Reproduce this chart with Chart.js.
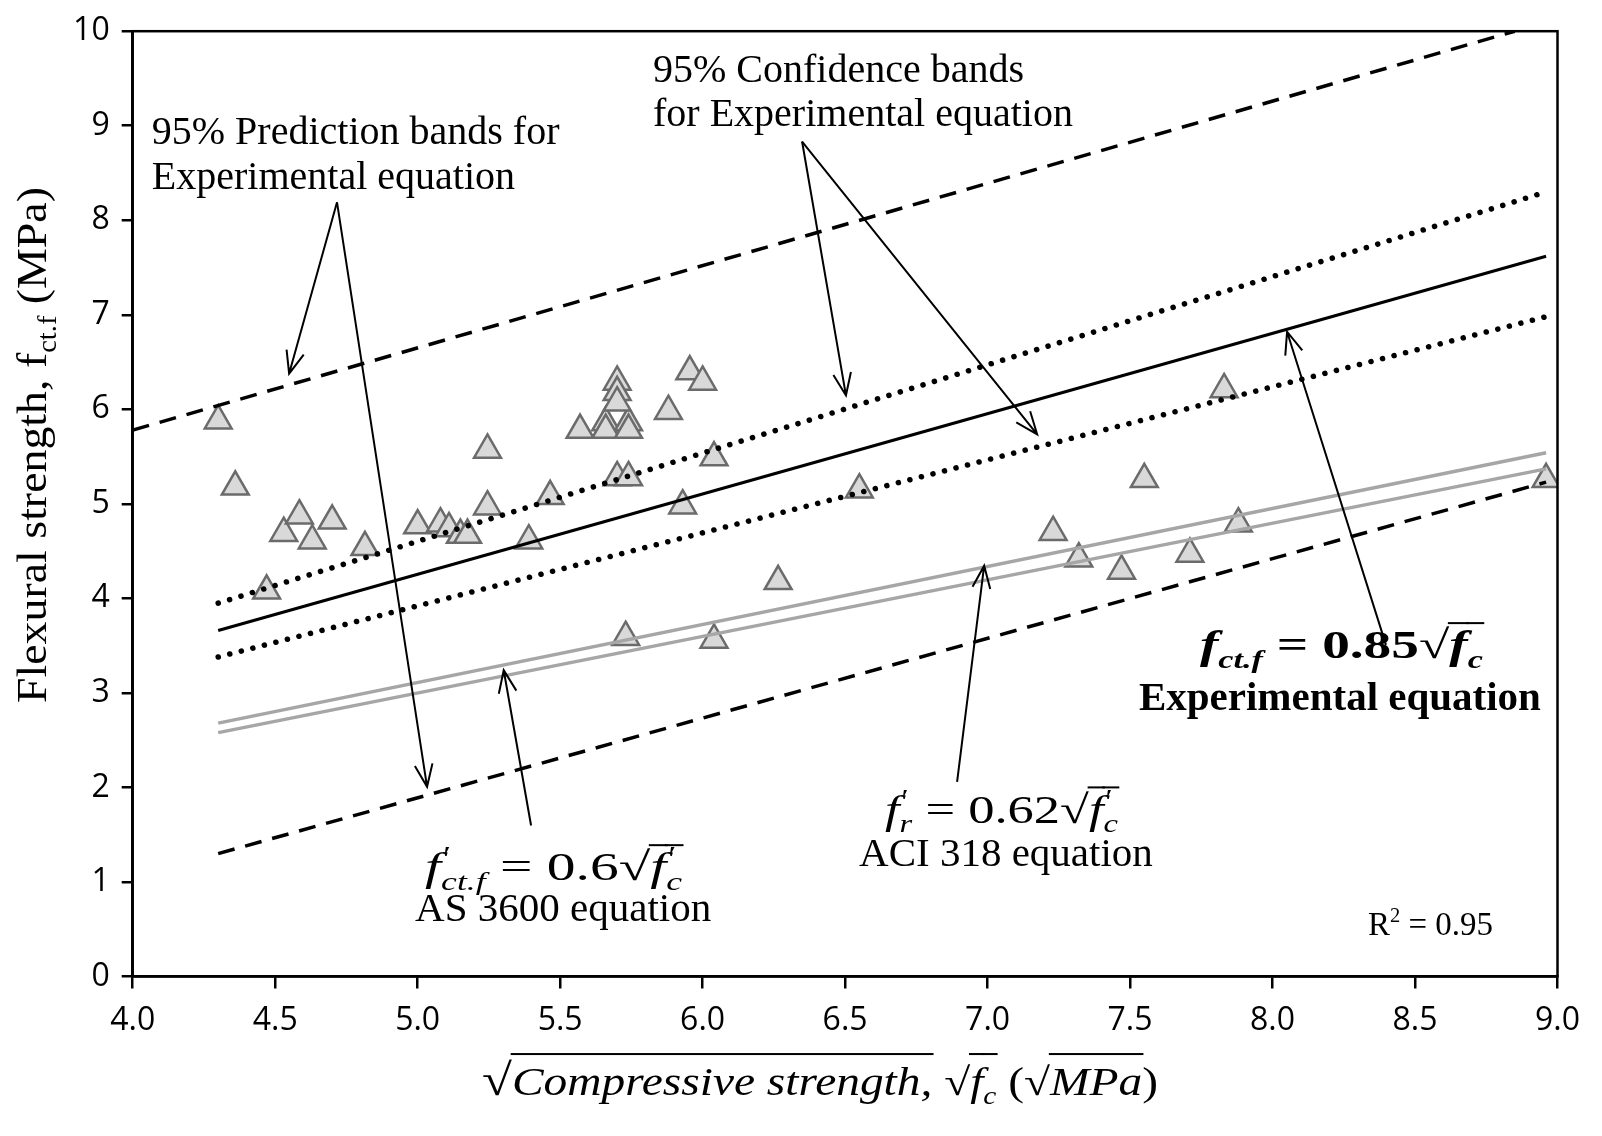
<!DOCTYPE html>
<html>
<head>
<meta charset="UTF-8">
<title>Flexural strength vs square root of compressive strength</title>
<script src="https://cdn.jsdelivr.net/npm/chart.js"></script>
<style>
    body { margin: 0; background: #ffffff; }
    .chart-container { position: relative; width: 1602px; height: 1136px; }
</style>
</head>
<body>
<div class="chart-container"><canvas id="strengthChart"></canvas></div>
<script>
// test results: sqrt(fc) (sqrt MPa) and flexural strength fct.f (MPa)
var sqrtFc = [4.30, 4.36, 4.47, 4.53, 4.585, 4.63, 4.70, 4.815, 5.00, 5.08, 5.11, 5.15, 5.175,
              5.245, 5.245, 5.39, 5.465, 5.57, 5.66, 5.74, 5.66, 5.74, 5.70, 5.70, 5.70, 5.70,
              5.74, 5.73, 5.88, 5.93, 5.955, 6.00, 6.04, 6.04, 6.265, 6.55, 7.23, 7.32, 7.47,
              7.55, 7.71, 7.83, 7.88, 8.96];
var fctf   = [5.88, 5.18, 4.08, 4.69, 4.875, 4.61, 4.82, 4.54, 4.77, 4.79, 4.74, 4.67, 4.67,
              4.97, 5.57, 4.61, 5.08, 5.78, 5.86, 5.86, 5.78, 5.78, 6.29, 6.18, 6.07, 5.28,
              5.28, 3.59, 5.98, 4.98, 6.40, 6.29, 5.49, 3.56, 4.18, 5.15, 4.70, 4.42, 4.29,
              5.26, 4.47, 6.21, 4.79, 5.26];

// straight lines, end points
var expLineX = [4.30, 8.96],  expLineY = [3.66, 7.62];     // fct.f = 0.85 sqrt(fc)
var confX    = [4.30, 8.96];
var confUpY  = [3.95, 8.30],  confLowY = [3.38, 6.98];      // 95% confidence bands
var predUpX  = [4.00, 8.85],  predUpY  = [5.78, 10.0];      // 95% prediction bands
var predLowX = [4.30, 8.96],  predLowY = [1.30, 5.23];
var codeX    = [4.30, 8.96];
var aciY     = [2.68, 5.54],  as3600Y  = [2.58, 5.37];      // ACI 318 / AS 3600

var xTicks = [4.0, 4.5, 5.0, 5.5, 6.0, 6.5, 7.0, 7.5, 8.0, 8.5, 9.0];

function pts(xs, ys) {
    return xs.map(function (x, i) { return { x: x, y: ys[i] }; });
}

function lineSet(xs, ys, color, width, dash, cap) {
    return {
        type: 'scatter', data: pts(xs, ys), showLine: true, order: 1,
        borderColor: color, borderWidth: width, borderDash: dash || [],
        borderCapStyle: cap || 'butt', pointRadius: 0, pointHoverRadius: 0, fill: false
    };
}

// ---- rich text (sub/superscripts, overbars) drawn on the canvas ----
function fontStr(r, size, fam) {
    return (r.italic ? 'italic ' : '') + (r.bold ? 'bold ' : '') + size.toFixed(1) + 'px ' + (r.family || fam);
}

function drawRich(ctx, runs, x, y, o) {
    var size = o.size, fam = o.family || '"Liberation Serif"';
    var items = [], w = 0;
    runs.forEach(function (r) {
        var rw;
        if (r.hi !== undefined) {
            ctx.font = fontStr(r, size * 0.62, fam);
            rw = Math.max(ctx.measureText(r.hi).width, ctx.measureText(r.lo).width);
        } else {
            var s = (r.sub || r.sup) ? 0.62 : (r.scale || 1);
            ctx.font = fontStr(r, size * s, fam);
            rw = ctx.measureText(r.t).width;
        }
        items.push({ r: r, x: w, w: rw });
        w += rw + (r.gap || 0) * size;
    });
    var k = o.width ? o.width / w : 1;
    var x0 = o.align === 'center' ? x - w * k / 2 : x;
    ctx.save();
    ctx.translate(x0, y);
    ctx.scale(k, 1);
    ctx.fillStyle = o.color || '#000';
    ctx.textAlign = 'left';
    ctx.textBaseline = 'alphabetic';
    items.forEach(function (it) {
        var r = it.r;
        if (r.hi !== undefined) {
            ctx.font = fontStr(r, size * 0.62, fam);
            ctx.fillText(r.hi, it.x, -size * 0.40);
            ctx.fillText(r.lo, it.x, size * 0.24);
        } else {
            var s = (r.sub || r.sup) ? 0.62 : (r.scale || 1);
            ctx.font = fontStr(r, size * s, fam);
            ctx.fillText(r.t, it.x, r.sub ? size * 0.24 : (r.sup ? -size * 0.40 : 0));
        }
        if (r.bar) {
            var lw = o.barW || 2;
            ctx.fillRect(it.x - 1, -size * (o.barY || 0.8) - lw / 2, it.w + 2, lw);
        }
    });
    ctx.restore();
}

function arrow(ctx, x1, y1, x2, y2) {
    var a = Math.atan2(y2 - y1, x2 - x1), L = 24, h = 0.38;
    ctx.beginPath();
    ctx.moveTo(x1, y1); ctx.lineTo(x2, y2);
    ctx.moveTo(x2 - L * Math.cos(a - h), y2 - L * Math.sin(a - h));
    ctx.lineTo(x2, y2);
    ctx.lineTo(x2 - L * Math.cos(a + h), y2 - L * Math.sin(a + h));
    ctx.stroke();
}

// annotation anchors in data units
var arrows = [
    [4.717, 8.19, 4.549, 6.378], [4.717, 8.19, 5.033, 2.007],   // prediction bands
    [6.349, 8.833, 6.503, 6.147], [6.349, 8.833, 7.174, 5.736], // confidence bands
    [8.398, 3.508, 8.051, 6.821],                                // experimental
    [6.893, 2.059, 6.988, 4.346],                                // ACI 318
    [5.398, 1.597, 5.302, 3.240]                                 // AS 3600
];

var overlay = {
    id: 'overlay',
    afterDraw: function (chart) {
        var ctx = chart.ctx, a = chart.chartArea;
        var sx = chart.scales.x, sy = chart.scales.y;
        function X(v) { return sx.getPixelForValue(v); }
        function Y(v) { return sy.getPixelForValue(v); }
        ctx.save();
        // plot frame
        ctx.strokeStyle = '#000';
        ctx.lineWidth = 2.5;
        ctx.strokeRect(a.left, a.top, a.right - a.left, a.bottom - a.top);

        ctx.lineWidth = 2;
        arrows.forEach(function (p) { arrow(ctx, X(p[0]), Y(p[1]), X(p[2]), Y(p[3])); });

        var serif = { size: 40 };
        drawRich(ctx, [{ t: '95% Prediction bands for' }], X(4.067), Y(8.81), serif);
        drawRich(ctx, [{ t: 'Experimental equation' }], X(4.067), Y(8.33), serif);
        drawRich(ctx, [{ t: '95% Confidence bands' }], X(5.826), Y(9.466), serif);
        drawRich(ctx, [{ t: 'for Experimental equation' }], X(5.826), Y(8.992), serif);

        drawRich(ctx, [{ t: 'f', italic: 1, bold: 1 }, { t: 'ct.f', sub: 1, italic: 1, bold: 1 },
                       { t: ' = 0.85', bold: 1 }, { t: '\u221A' },
                       { t: 'f', italic: 1, bold: 1, bar: 1 }, { t: 'c', sub: 1, italic: 1, bold: 1, bar: 1 }],
                 X(7.745), Y(3.366), { size: 40, width: 283, barY: 0.88 });
        drawRich(ctx, [{ t: 'Experimental equation', bold: 1 }], X(7.531), Y(2.818), { size: 41 });

        drawRich(ctx, [{ t: 'f', italic: 1 }, { hi: '\u2032', lo: 'r', italic: 1 }, { t: ' = 0.62' },
                       { t: '\u221A' }, { t: 'f', italic: 1, bar: 1 }, { hi: '\u2032', lo: 'c', italic: 1, bar: 1 }],
                 X(6.640), Y(1.628), { size: 40, width: 233, barY: 0.88 });
        drawRich(ctx, [{ t: 'ACI 318 equation' }], X(6.549), Y(1.164), { size: 41 });

        drawRich(ctx, [{ t: 'f', italic: 1 }, { hi: '\u2032', lo: 'ct.f', italic: 1 }, { t: ' = 0.6' },
                       { t: '\u221A' }, { t: 'f', italic: 1, bar: 1 }, { hi: '\u2032', lo: 'c', italic: 1, bar: 1 }],
                 X(5.026), Y(1.017), { size: 40, width: 257, barY: 0.88 });
        drawRich(ctx, [{ t: 'AS 3600 equation' }], X(4.991), Y(0.585), { size: 41 });

        drawRich(ctx, [{ t: 'R' }, { t: '2', sup: 1 }, { t: ' = 0.95' }], X(8.335), Y(0.437), { size: 33 });

        // axis titles
        ctx.save();
        ctx.translate(46, 445);
        ctx.rotate(-Math.PI / 2);
        drawRich(ctx, [{ t: 'Flexural strength, f' }, { t: 'ct.f', sub: 1 }, { t: ' (MPa)' }],
                 0, 0, { size: 43, align: 'center', width: 516 });
        ctx.restore();

        drawRich(ctx, [{ t: '\u221A', scale: 1.15 }, { t: 'Compressive strength,', italic: 1, bar: 1 },
                       { t: ' ' }, { t: '\u221A' }, { t: 'f', italic: 1, bar: 1 }, { t: 'c', sub: 1, italic: 1, bar: 1 },
                       { t: ' (' }, { t: '\u221A' }, { t: 'MPa', italic: 1, bar: 1 }, { t: ')' }],
                 482, 1095, { size: 39, width: 676, barY: 1.05 });
        ctx.restore();
    }
};

var ctx = document.getElementById('strengthChart').getContext('2d');
var strengthChart = new Chart(ctx, {
    type: 'scatter',
    data: {
        datasets: [
            {
                label: 'Test results', data: pts(sqrtFc, fctf), order: 2,
                pointStyle: 'triangle', pointRadius: 15.5, pointHoverRadius: 15.5,
                backgroundColor: '#d9d9d9', borderColor: '#6b6b6b', borderWidth: 2.5
            },
            lineSet(expLineX, expLineY, '#000000', 3),
            lineSet(confX, confUpY, '#000000', 5.5, [0.1, 11.8], 'round'),
            lineSet(confX, confLowY, '#000000', 5.5, [0.1, 11.8], 'round'),
            lineSet(predUpX, predUpY, '#000000', 3.5, [17, 11]),
            lineSet(predLowX, predLowY, '#000000', 3.5, [17, 11]),
            lineSet(codeX, aciY, '#a6a6a6', 3.5),
            lineSet(codeX, as3600Y, '#a6a6a6', 3.5)
        ]
    },
    options: {
        responsive: true,
        maintainAspectRatio: false,
        animation: false,
        events: [],
        layout: { padding: { left: 0, top: 27, right: 44.5, bottom: 0 } },
        plugins: { legend: { display: false }, tooltip: { enabled: false } },
        scales: {
            x: {
                type: 'linear', min: 4, max: 9,
                afterBuildTicks: function (s) { s.ticks = xTicks.map(function (v) { return { value: v }; }); },
                afterFit: function (s) { s.height = 159.5; },
                grid: { drawOnChartArea: false, drawTicks: true, tickLength: 12, color: '#000', lineWidth: 2.5 },
                border: { display: true, color: '#000', width: 2.5 },
                ticks: {
                    padding: 13, color: '#000',
                    font: { family: '"Open Sans"', size: 32 },
                    callback: function (v) { return v.toFixed(1); }
                }
            },
            y: {
                min: 0, max: 10,
                afterFit: function (s) { s.width = 132.7; },
                grid: { drawOnChartArea: false, drawTicks: true, tickLength: 11, color: '#000', lineWidth: 2.5 },
                border: { display: true, color: '#000', width: 2.5 },
                ticks: {
                    stepSize: 1, padding: 12, color: '#000',
                    font: { family: '"Open Sans"', size: 32 }
                }
            }
        }
    },
    plugins: [overlay]
});
</script>
</body>
</html>
